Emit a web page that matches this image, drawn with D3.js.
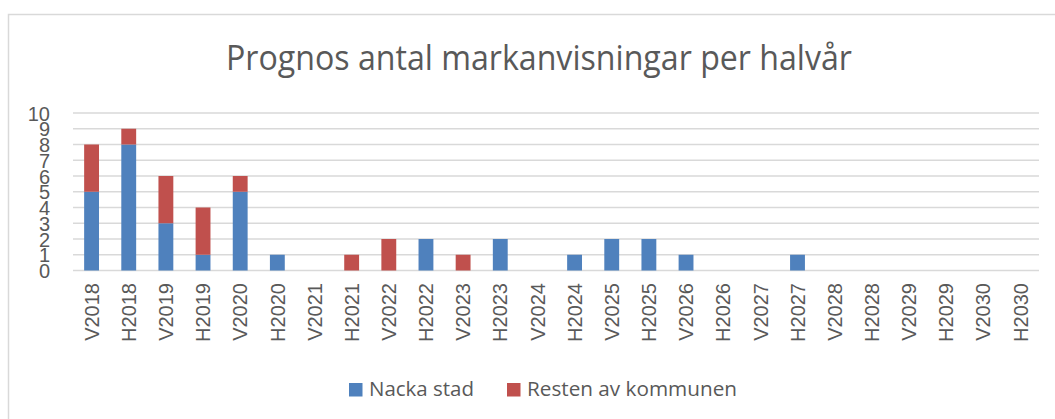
<!DOCTYPE html>
<html><head><meta charset="utf-8">
<script src="https://cdn.jsdelivr.net/npm/d3@7"></script>
<style>body{margin:0;background:#fff}svg{display:block}</style>
</head><body>
<script>
const categories = ["V2018","H2018","V2019","H2019","V2020","H2020","V2021","H2021","V2022","H2022","V2023","H2023","V2024","H2024","V2025","H2025","V2026","H2026","V2027","H2027","V2028","H2028","V2029","H2029","V2030","H2030"];
const nackaStad = [5,8,3,1,5,1,0,0,0,2,0,2,0,1,2,2,1,0,0,1,0,0,0,0,0,0];
const restenAvKommunen = [3,1,3,3,1,0,0,1,2,0,1,0,0,0,0,0,0,0,0,0,0,0,0,0,0,0];
const seriesNames = ["Nacka stad","Resten av kommunen"];
const yTicks = [0,1,2,3,4,5,6,7,8,9,10];
const colors = ["#4F81BD","#C0504D"];

const W = 1055, H = 419;
const svg = d3.select("body").append("svg").attr("width", W).attr("height", H);
svg.append("rect").attr("x",8.5).attr("y",14.5).attr("width",W+10).attr("height",H+10)
  .attr("fill","#fff").attr("stroke","#d9d9d9").attr("stroke-width",1.5);

svg.append("text").attr("x",539).attr("y",70).attr("text-anchor","middle")
  .attr("font-family","Open Sans").attr("font-size",34).attr("fill","#595959")
  .attr("textLength",626).attr("lengthAdjust","spacingAndGlyphs")
  .text("Prognos antal markanvisningar per halvår");

const x = d3.scaleBand().domain(categories).range([73,1039]).paddingInner(0.6).paddingOuter(0.3);
const y = d3.scaleLinear().domain([0,10]).range([270.5,113]);

// gridlines
svg.append("g").selectAll("line").data(yTicks).join("line")
  .attr("x1",73).attr("x2",1039).attr("y1",d=>y(d)).attr("y2",d=>y(d))
  .attr("stroke","#d9d9d9").attr("stroke-width",1.5);

const rows = categories.map((c,i)=>({cat:c, "Nacka stad":nackaStad[i], "Resten av kommunen":restenAvKommunen[i]}));
const stack = d3.stack().keys(seriesNames)(rows);
svg.append("g").selectAll("g").data(stack).join("g").attr("fill",(d,i)=>colors[i])
  .selectAll("rect").data(d=>d.filter(p=>p[1]-p[0]>0)).join("rect")
  .attr("x",d=>x(d.data.cat)).attr("width",x.bandwidth())
  .attr("y",d=>y(d[1])).attr("height",d=>y(d[0])-y(d[1]));

// y axis labels
const yAxis = d3.axisLeft(y).tickValues(yTicks).tickSize(0).tickPadding(0);
const ya = svg.append("g").attr("transform","translate(50,0)").call(yAxis);
ya.select(".domain").remove();
ya.selectAll("text").attr("font-family","Liberation Sans, Arial").attr("font-size",20).attr("fill","#595959").attr("dy","0.36em");

// x axis labels
const xAxis = d3.axisBottom(x).tickSize(0).tickPadding(0);
const xa = svg.append("g").attr("transform","translate(0,283)").call(xAxis);
xa.select(".domain").remove();
xa.selectAll("text").attr("font-family","Liberation Sans, Arial").attr("font-size",20).attr("fill","#595959")
  .attr("transform","rotate(-90)").attr("text-anchor","end").attr("x",0).attr("y",0).attr("dy","0.36em").attr("dx",0);

// legend
const legX = [349, 507], legTW = [105, 210];
const leg = svg.append("g").selectAll("g").data(seriesNames).join("g");
leg.append("rect").attr("x",(d,i)=>legX[i]).attr("y",383).attr("width",13.5).attr("height",13.5).attr("fill",(d,i)=>colors[i]);
leg.append("text").attr("x",(d,i)=>legX[i]+20).attr("y",396).attr("font-family","Open Sans").attr("font-size",20)
  .attr("fill","#595959").attr("textLength",(d,i)=>legTW[i]).attr("lengthAdjust","spacingAndGlyphs").text(d=>d);
</script>
</body></html>
